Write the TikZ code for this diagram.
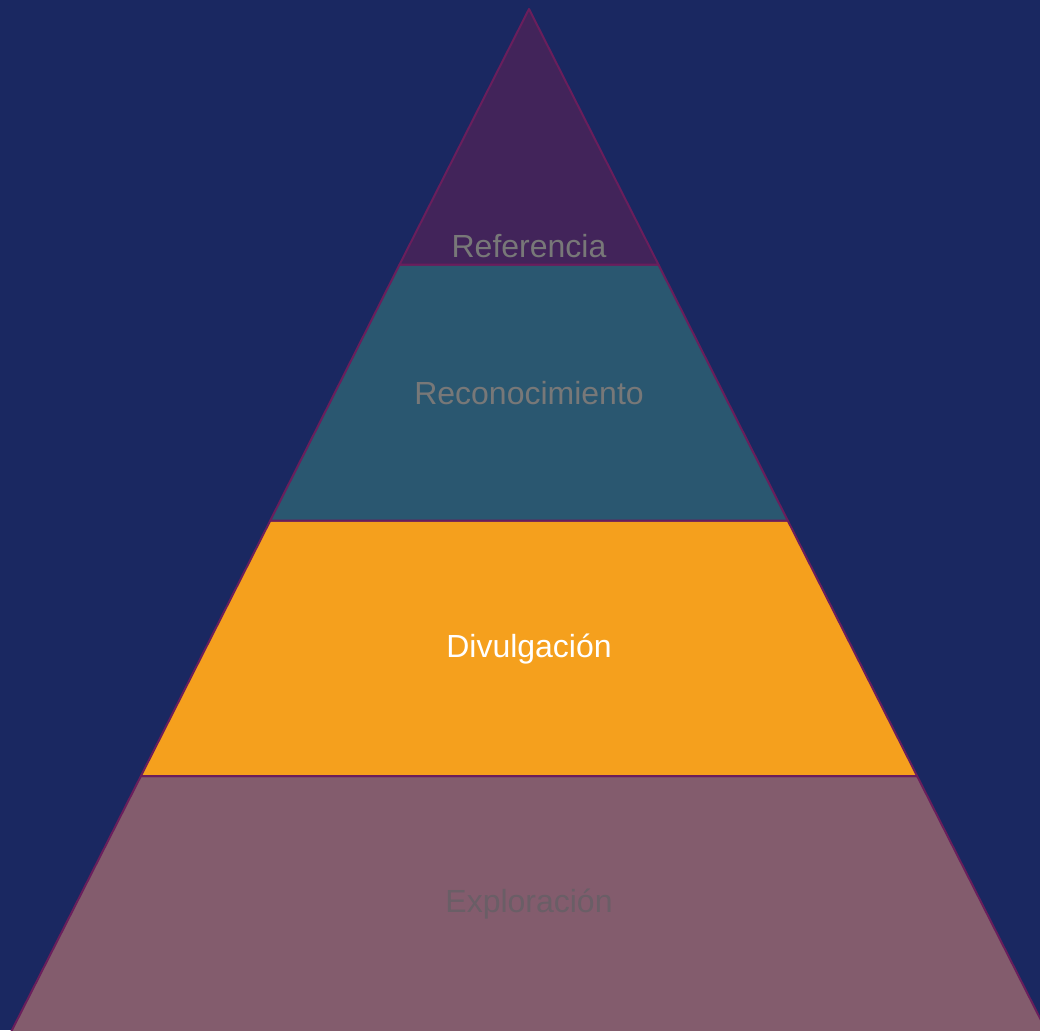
\documentclass[tikz,border=0pt]{standalone}
\usepackage{fontspec}
\setmainfont{Liberation Sans}
\definecolor{fondo}{HTML}{1A2861}
\definecolor{borde}{HTML}{6A1E5C}
\definecolor{capaA}{HTML}{42245A}
\definecolor{capaB}{HTML}{2A5770}
\definecolor{capaC}{HTML}{F5A01D}
\definecolor{capaD}{HTML}{835C6D}
\definecolor{letra}{HTML}{787878}
\definecolor{letraD}{HTML}{6A5E66}
\begin{document}
\begin{tikzpicture}[x=1pt,y=-1pt, line join=round, font=\fontsize{32}{38}\selectfont]
	\def\cx{529} % eje de la pirámide
	\tikzset{capa/.style={draw=borde, line width=2pt}}
	
	\fill[fondo] (0,0) rectangle (1040,1030);
	\useasboundingbox (0,0) rectangle (1040,1030);
	\clip (0,0) rectangle (1040,1030);
	
	\coordinate (apex) at (\cx,9);
	\coordinate (l1) at (\cx-129.4,264.5); \coordinate (r1) at (\cx+129.4,264.5);
	\coordinate (l2) at (\cx-258.7,520.5); \coordinate (r2) at (\cx+258.7,520.5);
	\coordinate (l3) at (\cx-388.1,776);   \coordinate (r3) at (\cx+388.1,776);
	\coordinate (l4) at (\cx-519,1034);    \coordinate (r4) at (\cx+519,1034);
	
	\filldraw[capa, fill=capaD] (l3)--(r3)--(r4)--(l4)--cycle;
	\filldraw[capa, fill=capaC] (l2)--(r2)--(r3)--(l3)--cycle;
	\filldraw[capa, fill=capaB] (l1)--(r1)--(r2)--(l2)--cycle;
	\filldraw[capa, fill=capaA] (apex)--(r1)--(l1)--cycle;
	
	\node[text=letra] (referencia) at (\cx,246) {Referencia};
	\node[text=letra] (reconocimiento) at (\cx,393) {Reconocimiento};
	\node[text=white] (divulgacion) at (\cx,649) {Divulgación};
	\node[text=letraD] (exploracion) at (\cx,904) {Exploración};
\end{tikzpicture}
\end{document}
